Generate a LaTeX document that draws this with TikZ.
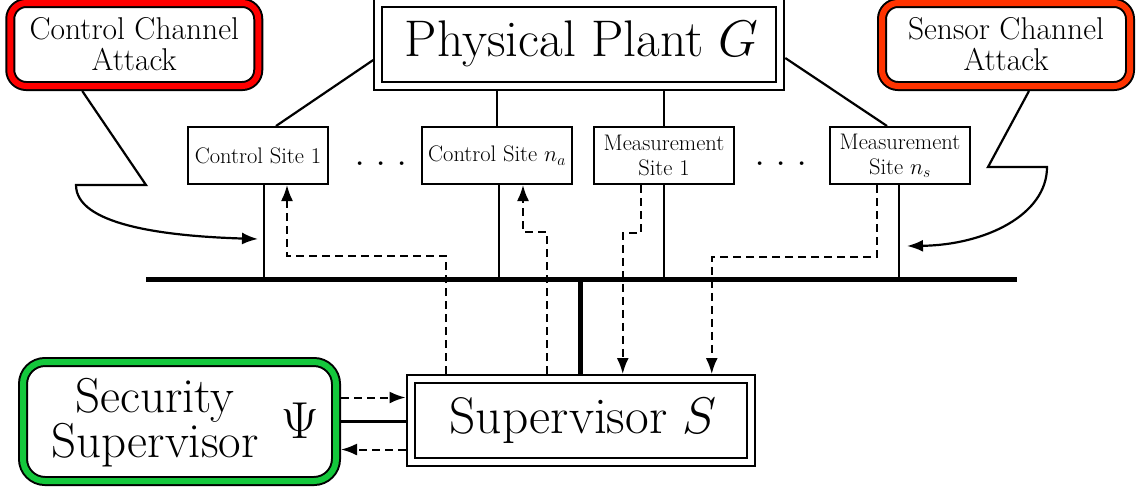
\RequirePackage{fix-cm}
\documentclass[tikz,border=0pt]{standalone}
\usetikzlibrary{arrows.meta,calc}
\definecolor{attackred}{RGB}{255,0,0}
\definecolor{sensorred}{RGB}{255,51,0}
\definecolor{guardgreen}{RGB}{20,200,60}
\tikzset{
  wire/.style={line width=2.2pt},
  bus/.style={line width=5pt},
  dsh/.style={line width=2pt, dash pattern=on 8pt off 5pt},
  headed/.style={-{Latex[length=16pt,width=12pt]}},
  site/.style={draw, line width=2pt, minimum width=140pt, minimum height=57pt,
    inner sep=0pt, align=center, font=\fontsize{22.5}{25}\selectfont},
  framed/.style={draw, line width=2pt, double=white, double distance=6pt,
    outer sep=5pt, minimum height=83pt, inner sep=0pt,
    font=\fontsize{51.5}{51}\selectfont},
  alarm/.style={draw, line width=2pt, double=#1, double distance=6pt,
    outer sep=5pt, fill=white, rounded corners=16pt, inner sep=0pt,
    align=center, minimum width=248pt, minimum height=83pt,
    font=\fontsize{31.5}{31}\selectfont},
}
\begin{document}
\begin{tikzpicture}[x=1pt,y=-1pt]
\useasboundingbox (0,0) rectangle (1140,491);

% attack boxes and plant
\node[alarm=attackred] (cca) at (134.25,44.5) {Control Channel\\Attack};
\node[alarm=sensorred] (sca) at (1006,44.5) {Sensor Channel\\Attack};
\node[framed, minimum width=402pt] (plant) at (579.25,44) {\hspace*{5pt}Physical Plant $G$};

% sites
\node[site] (cs1) at (258,155.5) {Control Site 1};
\node[site, minimum width=150pt] (cna) at (497,155.5) {Control Site $n_a$};
\node[site] (ms1) at (664,155.5) {Measurement\\Site 1};
\node[site] (msn) at (900,155.5) {Measurement\\Site $n_s$};
\node[font=\fontsize{45}{45}\selectfont, inner sep=0pt, anchor=base] (dotsL) at (381,165) {.\kern10pt.\kern10pt.};
\node[font=\fontsize{45}{45}\selectfont, inner sep=0pt, anchor=base] (dotsR) at (781,165) {.\kern10pt.\kern10pt.};

% supervisors
\node[framed, minimum width=340.5pt] (sup) at (580.75,420.5) {\hspace*{5pt}Supervisor $S$};
\node[alarm=guardgreen, minimum width=313pt, minimum height=119pt, rounded corners=22pt] (sec) at (179.5,421.5) {};
\node[font=\fontsize{49}{38}\selectfont, align=center, inner sep=0pt] (sectext) at (155,423) {Security\\Supervisor};
\node[font=\fontsize{52}{52}\selectfont, inner sep=0pt] (psi) at (300,421) {$\Psi$};

% communication bus
\coordinate (busL) at (146,279);
\coordinate (busR) at (1017,279);
\draw[bus] (busL) -- (busR);
\draw[bus] (sup.north) -- (sup.north |- busL);

% plant to sites
\draw[wire] ([yshift=-16pt]plant.west) -- ([xshift=18pt]cs1.north);
\draw[wire] (cna.north) -- (cna.north |- plant.south);
\draw[wire] (ms1.north) -- (ms1.north |- plant.south);
\draw[wire] ([yshift=-14pt]plant.east) -- ([xshift=-13pt]msn.north);

% sites to bus
\draw[wire] ([xshift=6pt]cs1.south) -- ([xshift=6pt]cs1.south |- busL);
\draw[wire] ([xshift=2pt]cna.south) -- ([xshift=2pt]cna.south |- busL);
\draw[wire] (ms1.south) -- (ms1.south |- busL);
\draw[wire] ([xshift=-1pt]msn.south) -- ([xshift=-1pt]msn.south |- busL);

% logical data flows
\draw[dsh,headed] ([xshift=-135pt]sup.north) -- ++(0,-118) -| ([xshift=29pt]cs1.south);
\draw[dsh,headed] ([xshift=-34pt]sup.north) -- ++(0,-142) -| ([xshift=26pt]cna.south);
\draw[dsh,headed] ([xshift=-23pt]ms1.south) -- ++(0,48) -| ([xshift=42pt]sup.north);
\draw[dsh,headed] ([xshift=-23pt]msn.south) -- ++(0,72) -| ([xshift=131pt]sup.north);

% security supervisor links
\draw[dsh,headed] ([yshift=24pt]sec.east) -- ([yshift=24pt]sec.east -| sup.west);
\draw[wire] (sec.east) -- (sec.east -| sup.west);
\draw[dsh,headed] ([yshift=-29pt]sup.west) -- ([yshift=-29pt]sup.west -| sec.east);

% attack callouts
\coordinate (ck1) at (146,185);
\coordinate (ck2) at (76,185);
\coordinate (ctgt) at ([xshift=0pt,yshift=-54pt]cs1.south);
\draw[wire,line join=miter,headed] ([xshift=77pt]cca.south west) -- (ck1) -- (ck2)
  .. controls (76,224) and (160,236) .. (ctgt);
\coordinate (sk1) at (988,167);
\coordinate (sk2) at (1047,167);
\coordinate (stgt) at ([xshift=7pt,yshift=-61pt]msn.south);
\draw[wire,line join=miter,headed] ([xshift=23pt]sca.south) -- (sk1) -- (sk2)
  .. controls (1047,215) and (985,245) .. (stgt);
\end{tikzpicture}
\end{document}
